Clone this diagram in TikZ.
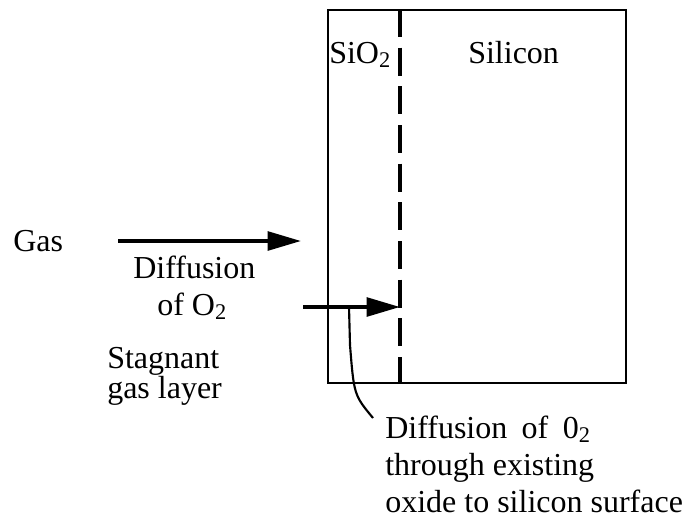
\documentclass[tikz,border=0pt]{standalone}
\usepackage{fontspec}
\setmainfont{Liberation Serif}
\usetikzlibrary{arrows.meta}
\begin{document}
\begin{tikzpicture}[x=0.75pt,y=-0.75pt,
  txt/.style={font=\fontsize{24}{28}\selectfont, inner sep=0pt, anchor=base west},
  flow/.style={line width=2.8pt, -{Triangle[length=25pt,width=14pt]}},
  layerline/.style={line width=2.6pt, dash pattern=on 21pt off 8pt},
  pointer/.style={line width=1.6pt}]
\useasboundingbox (0,0) rectangle (695,519);
% wafer box
\node (box) [draw, line width=1.8pt, minimum width=223.5pt, minimum height=279.75pt,
  inner sep=0pt, anchor=north west] at (327,9) {};
% interface
\coordinate (dt) at (400,9);
\coordinate (db) at (400,382);
\draw[layerline] (dt) -- (db);
% labels in box
\node (sio2) [txt] at (329,63) {SiO\textsubscript{2}};
\node (si) [txt] at (468,63) {Silicon};
% left labels
\node (gas) [txt] at (13,251) {Gas};
\node (dif1) [txt] at (133,278) {Diffusion};
\node (dif2) [txt] at (157,315) {of O\textsubscript{2}};
\node (stag1) [txt] at (107,368) {Stagnant};
\node (stag2) [txt] at (107,398) {gas layer};
% arrows
\coordinate (g1) at (118,241);
\coordinate (g2) at (301,241);
\draw[flow] (g1) -- (g2);
\coordinate (o1) at (303,307);
\coordinate (o2) at (400,307);
\draw[flow] (o1) -- (o2);
% note
\node (n1) [txt] at (385,438) {Diffusion\hspace{0.45em}of\hspace{0.45em}0\textsubscript{2}};
\node (n2) [txt] at (385,475) {through existing};
\node (n3) [txt] at (385,512) {oxide to silicon surface};
\coordinate (p1) at (349,307);
\coordinate (p2) at (350,345);
\coordinate (pe) at (373,418);
\draw[pointer] (p1) -- (p2) .. controls (354,395) .. (pe);
\end{tikzpicture}
\end{document}
